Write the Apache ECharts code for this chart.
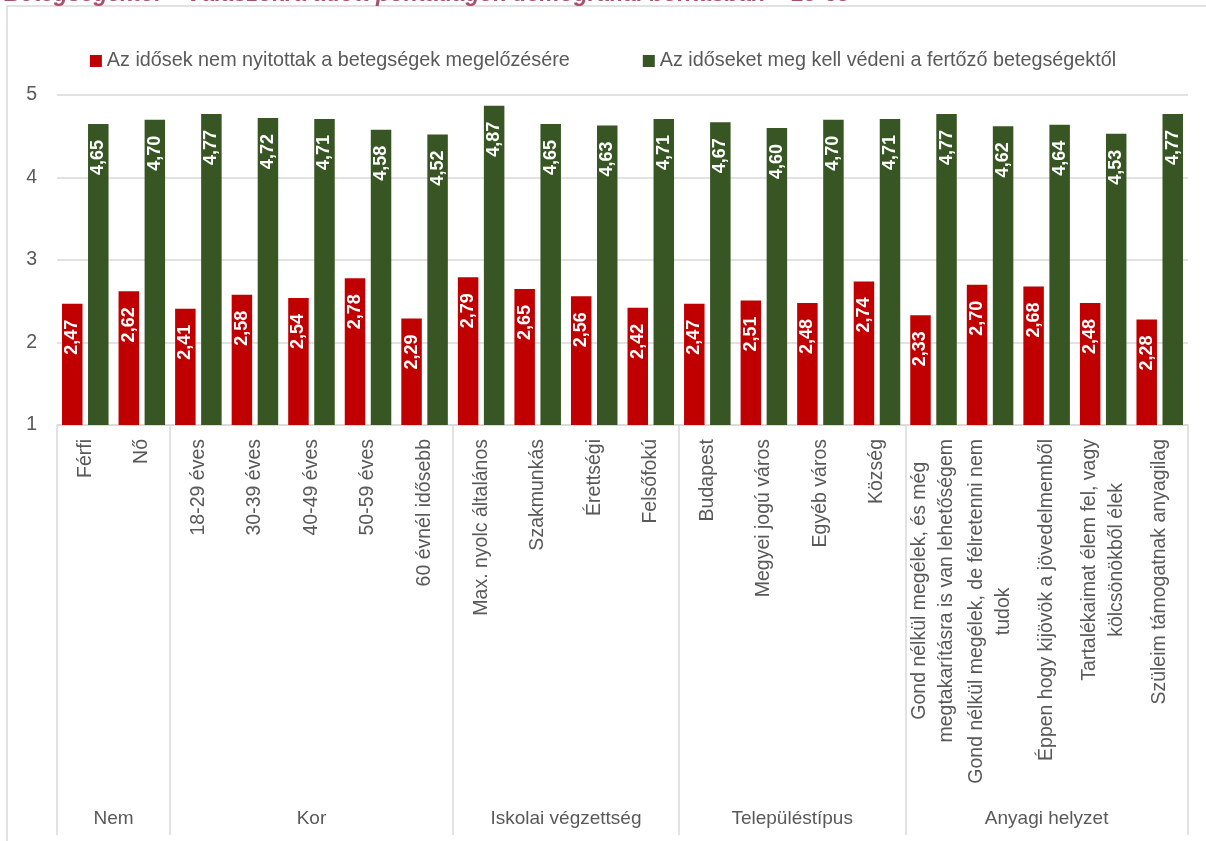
<!DOCTYPE html>
<html lang="hu">
<head>
<meta charset="utf-8">
<title>Pontátlagok demográfiai bontásban</title>
<script src="https://cdn.jsdelivr.net/npm/echarts@6/dist/echarts.min.js"></script>
<style>
  html, body { margin: 0; padding: 0; background: #ffffff; }
  #chart { width: 1206px; height: 841px; }
</style>
</head>
<body>
<div id="chart"></div>
<script>
// Survey averages by demographic breakdown (scale 1–5)
const seriesNames = [
  'Az idősek nem nyitottak a betegségek megelőzésére',
  'Az időseket meg kell védeni a fertőző betegségektől'
];

const categories = [
  'Férfi', 'Nő',
  '18-29 éves', '30-39 éves', '40-49 éves', '50-59 éves', '60 évnél idősebb',
  'Max. nyolc általános', 'Szakmunkás', 'Érettségi', 'Felsőfokú',
  'Budapest', 'Megyei jogú város', 'Egyéb város', 'Község',
  'Gond nélkül megélek, és még\nmegtakarításra is van lehetőségem',
  'Gond nélkül megélek, de félretenni nem\ntudok',
  'Éppen hogy kijövök a jövedelmemből',
  'Tartalékaimat élem fel, vagy\nkölcsönökből élek',
  'Szüleim támogatnak anyagilag'
];

const groupNames = ['Nem', 'Kor', 'Iskolai végzettség', 'Településtípus', 'Anyagi helyzet'];
const groupSizes = [2, 5, 4, 4, 5];

const notOpenValues = [2.47, 2.62, 2.41, 2.58, 2.54, 2.78, 2.29, 2.79, 2.65, 2.56, 2.42,
                       2.47, 2.51, 2.48, 2.74, 2.33, 2.70, 2.68, 2.48, 2.28];
const protectValues = [4.65, 4.70, 4.77, 4.72, 4.71, 4.58, 4.52, 4.87, 4.65, 4.63, 4.71,
                       4.67, 4.60, 4.70, 4.71, 4.77, 4.62, 4.64, 4.53, 4.77];

const yTicks = [1, 2, 3, 4, 5];

const RED = '#c00000';
const GREEN = '#375623';
const TEXT = '#595959';
const GRIDLINE = '#d9d9d9';
const FONT = '"Liberation Sans", Arial, sans-serif';

// group boundaries and centres on a 0..N scale
const boundaries = [0];
groupSizes.forEach(n => boundaries.push(boundaries[boundaries.length - 1] + n));
const groupCenters = groupSizes.map((n, i) => boundaries[i] + n / 2);

const fmt = v => v.toFixed(2).replace('.', ',');

const chart = echarts.init(document.getElementById('chart'), null, { renderer: 'canvas' });

const valueLabel = {
  show: true,
  position: 'insideTop',
  distance: 16,
  rotate: 90,
  align: 'right',
  verticalAlign: 'middle',
  color: '#ffffff',
  fontFamily: FONT,
  fontSize: 18,
  fontWeight: 'bold',
  formatter: p => fmt(p.value)
};

chart.setOption({
  animation: false,
  backgroundColor: '#ffffff',
  graphic: [
    {
      type: 'rect',
      shape: { x: 7, y: 6, width: 1230, height: 900 },
      style: { fill: 'none', stroke: GRIDLINE, lineWidth: 1.5 },
      silent: true
    },
    {
      type: 'text',
      x: 4, y: 6,
      style: {
        text: 'Betegségektől – Válaszokra adott pontátlagok demográfiai bontásban – 18-65',
        font: 'italic bold 23px ' + FONT,
        fill: '#a8506b',
        verticalAlign: 'bottom'
      },
      silent: true
    }
  ],
  legend: {
    top: 46,
    left: 'center',
    itemWidth: 12,
    itemHeight: 12,
    itemGap: 73,
    icon: 'rect',
    textStyle: { color: TEXT, fontFamily: FONT, fontSize: 19.8, padding: [0, 0, 0, 0] },
    data: seriesNames
  },
  grid: { left: 57, right: 18, top: 95, bottom: 416, containLabel: false },
  xAxis: [
    {
      type: 'category',
      data: categories,
      position: 'bottom',
      axisLine: { show: true, lineStyle: { color: GRIDLINE, width: 1.5 } },
      axisTick: { show: false },
      axisLabel: {
        interval: 0,
        rotate: 90,
        margin: 14,
        color: TEXT,
        fontFamily: FONT,
        fontSize: 19.5,
        formatter: v => v.split('\n').map(s => '{c|' + s + '}').join('\n'),
        rich: {
          c: { align: 'center', color: TEXT, fontFamily: FONT, fontSize: 19.5, lineHeight: 27 }
        }
      },
      splitLine: { show: false }
    },
    {
      type: 'value',
      min: 0,
      max: categories.length,
      position: 'bottom',
      axisLine: { show: false },
      axisTick: {
        show: true,
        customValues: boundaries,
        length: 410,
        lineStyle: { color: GRIDLINE, width: 1.5 }
      },
      axisLabel: {
        customValues: groupCenters,
        margin: 384,
        color: TEXT,
        fontFamily: FONT,
        fontSize: 19,
        formatter: v => {
          const i = groupCenters.findIndex(c => Math.abs(c - v) < 1e-6);
          return i >= 0 ? groupNames[i] : '';
        }
      },
      splitLine: { show: false }
    }
  ],
  yAxis: {
    type: 'value',
    min: yTicks[0],
    max: yTicks[yTicks.length - 1],
    interval: 1,
    axisLine: { show: false },
    axisTick: { show: false },
    axisLabel: { color: TEXT, fontFamily: FONT, fontSize: 19.5, margin: 20 },
    splitLine: { lineStyle: { color: GRIDLINE, width: 1.5 } }
  },
  series: [
    {
      name: seriesNames[0],
      type: 'bar',
      xAxisIndex: 0,
      data: notOpenValues,
      barWidth: 20.5,
      barGap: '27%',
      itemStyle: { color: RED },
      label: valueLabel
    },
    {
      name: seriesNames[1],
      type: 'bar',
      xAxisIndex: 0,
      data: protectValues,
      barWidth: 20.5,
      barGap: '27%',
      itemStyle: { color: GREEN },
      label: valueLabel
    }
  ]
});
</script>
</body>
</html>
